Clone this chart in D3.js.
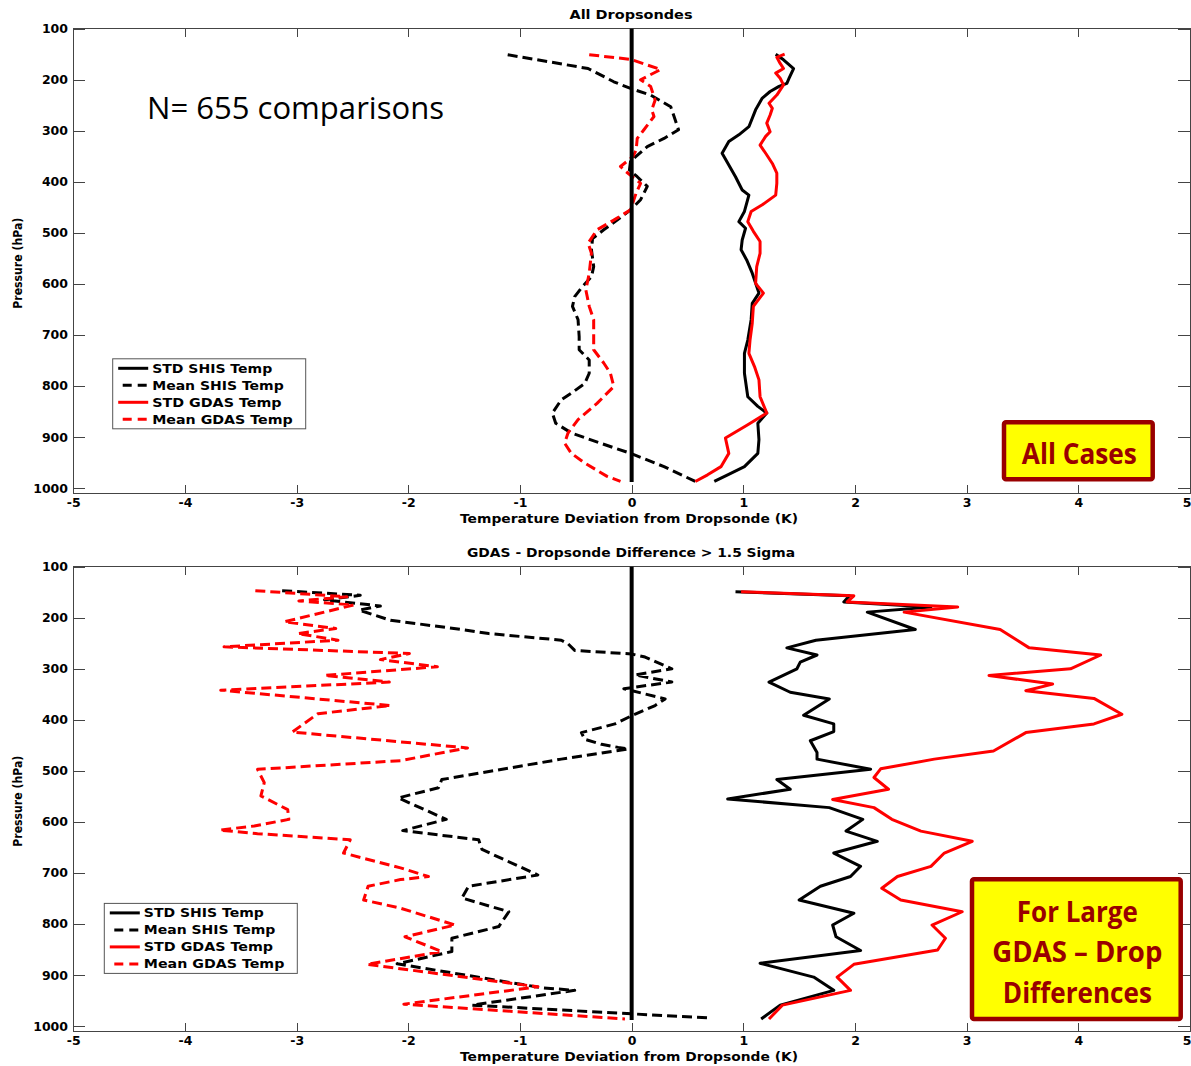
<!DOCTYPE html>
<html lang="en">
<head>
<meta charset="UTF-8">
<title>Dropsonde temperature deviation</title>
<script src="https://cdn.jsdelivr.net/npm/d3@7"></script>
<style>
    body { margin: 0; background: #fff; }
    text { font-family: "DejaVu Sans", sans-serif; font-weight: bold; fill: #000; }
    .axis text { font-size: 12.5px; }
    .axis line { stroke: #444; shape-rendering: crispEdges; }
    .frame { fill: none; stroke: #444; stroke-width: 1; shape-rendering: crispEdges; }
    .lbl { font-size: 12px; }
    .note { font-family: "Open Sans", sans-serif; }
</style>
</head>
<body>
<script>
// ---- data: [pressure hPa, deviation K] ----
// top panel: all dropsondes
const topStdShis = [[150,1.29],[161,1.36],[178,1.45],[197,1.41],[207,1.39],[213,1.32],[223,1.24],[236,1.17],[259,1.11],[292,1.05],[308,0.96],[321,0.87],[344,0.81],[367,0.87],[390,0.93],[416,0.99],[426,1.05],[458,1.01],[478,0.96],[491,1.02],[514,0.99],[533,0.98],[553,1.03],[579,1.08],[618,1.14],[638,1.08],[670,1.07],[710,1.04],[736,1.01],[775,1.01],[821,1.04],[840,1.13],[853,1.21],[873,1.13],[905,1.14],[932,1.13],[958,1.01],[974,0.86],[987,0.74]];
const topMeanShis = [[151,-1.11],[178,-0.39],[197,-0.22],[204,-0.16],[217,-0.01],[230,0.17],[253,0.35],[272,0.38],[298,0.42],[315,0.29],[331,0.14],[354,0.02],[360,-0.01],[377,-0.02],[390,0.05],[409,0.14],[435,0.08],[455,-0.01],[475,-0.13],[494,-0.25],[511,-0.35],[533,-0.36],[566,-0.34],[586,-0.36],[605,-0.44],[625,-0.51],[644,-0.53],[670,-0.48],[703,-0.47],[729,-0.47],[749,-0.38],[775,-0.38],[795,-0.42],[814,-0.54],[827,-0.63],[853,-0.71],[873,-0.68],[892,-0.54],[912,-0.28],[932,-0.01],[958,0.29],[987,0.57]];
const topStdGdas = [[150,1.37],[156,1.30],[168,1.33],[178,1.36],[187,1.29],[197,1.33],[210,1.36],[230,1.30],[246,1.23],[256,1.26],[269,1.24],[285,1.21],[302,1.24],[311,1.20],[328,1.15],[344,1.20],[364,1.26],[383,1.30],[403,1.30],[426,1.29],[445,1.17],[458,1.07],[478,1.04],[497,1.09],[517,1.15],[540,1.15],[566,1.12],[599,1.11],[618,1.18],[644,1.09],[677,1.08],[710,1.06],[736,1.05],[762,1.10],[788,1.14],[821,1.15],[853,1.21],[876,1.04],[902,0.84],[932,0.87],[958,0.80],[974,0.68],[987,0.57]];
const topMeanGdas = [[151,-0.38],[160,-0.01],[180,0.26],[200,0.08],[213,0.17],[240,0.21],[259,0.18],[272,0.20],[298,0.11],[315,0.05],[338,0.04],[351,0.01],[370,-0.10],[380,-0.05],[403,0.08],[422,0.04],[455,-0.01],[475,-0.16],[494,-0.31],[520,-0.39],[540,-0.36],[579,-0.38],[612,-0.41],[644,-0.38],[670,-0.34],[729,-0.34],[755,-0.25],[775,-0.19],[801,-0.16],[834,-0.31],[866,-0.48],[892,-0.57],[912,-0.60],[932,-0.54],[951,-0.42],[977,-0.22],[987,-0.10]];

// bottom panel: GDAS - dropsonde difference > 1.5 sigma
const botStdShis = [[149,0.93],[157,1.95],[169,1.90],[179,2.68],[189,2.11],[223,2.54],[244,1.65],[259,1.39],[273,1.66],[287,1.51],[300,1.48],[326,1.23],[346,1.42],[359,1.77],[391,1.54],[408,1.81],[423,1.81],[441,1.60],[464,1.66],[477,1.66],[497,2.14],[517,1.30],[536,1.42],[555,0.86],[572,1.77],[595,2.07],[618,1.92],[638,2.20],[661,1.81],[687,2.05],[707,1.96],[726,1.69],[753,1.50],[779,1.99],[802,1.80],[825,1.83],[852,2.05],[877,1.15],[904,1.63],[930,1.81],[959,1.33],[986,1.16]];
const botMeanShis = [[147,-3.13],[156,-2.43],[165,-2.75],[177,-2.25],[185,-2.44],[205,-2.16],[223,-1.52],[231,-1.28],[244,-0.63],[251,-0.57],[264,-0.51],[271,0.0],[277,0.12],[300,0.36],[312,0.03],[326,0.36],[339,-0.07],[359,0.30],[372,0.21],[392,0.0],[408,-0.15],[425,-0.45],[438,-0.42],[448,-0.27],[454,-0.12],[457,-0.03],[477,-0.63],[517,-1.70],[533,-1.73],[553,-2.09],[595,-1.66],[617,-2.05],[635,-1.37],[654,-1.34],[704,-0.84],[726,-1.46],[749,-1.52],[776,-1.10],[805,-1.19],[828,-1.61],[854,-1.61],[878,-2.10],[925,-0.80],[930,-0.51],[959,-1.43],[976,0.0],[984,0.69]];
const botStdGdas = [[149,0.98],[157,1.99],[169,1.93],[179,2.92],[189,2.44],[223,3.30],[259,3.56],[273,4.20],[300,3.93],[313,3.20],[330,3.77],[343,3.53],[358,4.14],[389,4.39],[408,4.14],[425,3.53],[461,3.24],[477,2.71],[496,2.23],[513,2.17],[536,2.30],[556,1.80],[572,2.17],[595,2.33],[618,2.59],[638,3.05],[661,2.80],[687,2.68],[707,2.38],[730,2.24],[753,2.41],[776,2.96],[802,2.69],[828,2.81],[851,2.74],[879,1.99],[904,1.84],[930,1.96],[959,1.35],[986,1.23]];
const botMeanGdas = [[147,-3.37],[159,-2.55],[167,-2.98],[175,-2.49],[208,-3.11],[221,-2.65],[231,-2.99],[244,-2.63],[257,-3.65],[270,-1.99],[282,-2.25],[296,-1.74],[313,-2.75],[326,-2.17],[342,-3.68],[372,-2.16],[388,-2.81],[424,-3.04],[455,-1.47],[480,-2.07],[497,-3.35],[523,-3.29],[549,-3.32],[576,-3.08],[595,-3.07],[608,-3.38],[616,-3.69],[623,-3.35],[635,-2.52],[661,-2.58],[690,-2.07],[707,-1.82],[713,-2.07],[726,-2.36],[753,-2.40],[769,-2.07],[802,-1.58],[825,-2.03],[854,-1.70],[879,-2.37],[923,-0.84],[957,-2.04],[986,-0.06]];

const pressureTicks = [100, 200, 300, 400, 500, 600, 700, 800, 900, 1000];
const tempTicks = [-5, -4, -3, -2, -1, 0, 1, 2, 3, 4, 5];
const legendLabels = ['STD SHIS Temp', 'Mean SHIS Temp', 'STD GDAS Temp', 'Mean GDAS Temp'];

// canvas
const width = 1191, height = 1066;
const svg = d3.select('body').append('svg')
    .attr('width', width)
    .attr('height', height);

const left = 73.3, right = 1190;
const x = d3.scaleLinear().domain([-5, 5]).range([left, right]);

// series styling (same order as legend)
const styles = [
    {color: '#000', dash: null},
    {color: '#000', dash: '10,5'},
    {color: '#ff0000', dash: null},
    {color: '#ff0000', dash: '10,5'}
];
const legendWidths = [120, 131.5, 129.3, 140.5];

function drawPanel(top, series, title, legendAt) {
    const bottom = top + 465;
    const y = d3.scaleLinear().domain([100, 1011]).range([top, bottom]);

    // y axis left (labels), right (ticks only)
    const yl = svg.append('g').attr('class', 'axis')
        .attr('transform', 'translate(' + left + ',0)')
        .call(d3.axisLeft(y).tickValues(pressureTicks).tickSizeInner(-11.7).tickSizeOuter(0)
            .tickPadding(5.3).tickFormat(d3.format('d')));
    yl.select('.domain').remove();
    const yr = svg.append('g').attr('class', 'axis')
        .attr('transform', 'translate(' + right + ',0)')
        .call(d3.axisRight(y).tickValues(pressureTicks).tickSizeInner(-11.7).tickSizeOuter(0).tickFormat(''));
    yr.select('.domain').remove();

    // x axis bottom (labels), top (ticks only)
    const xb = svg.append('g').attr('class', 'axis')
        .attr('transform', 'translate(0,' + bottom + ')')
        .call(d3.axisBottom(x).tickValues(tempTicks).tickSizeInner(-8.7).tickSizeOuter(0)
            .tickPadding(4).tickFormat(function (d) { return String(d); }));
    xb.select('.domain').remove();
    // the last label sits on the page edge: keep it inside
    xb.selectAll('.tick text').filter(function (d) { return d === 5; })
        .attr('text-anchor', 'end').attr('x', 1);
    const xt = svg.append('g').attr('class', 'axis')
        .attr('transform', 'translate(0,' + top + ')')
        .call(d3.axisTop(x).tickValues(tempTicks).tickSizeInner(-8.7).tickSizeOuter(0).tickFormat(''));
    xt.select('.domain').remove();

    svg.append('rect').attr('class', 'frame')
        .attr('x', left).attr('y', top)
        .attr('width', right - left).attr('height', bottom - top);

    // profiles
    const line = d3.line()
        .x(function (d) { return x(d[1]); })
        .y(function (d) { return y(d[0]); });
    series.forEach(function (s, i) {
        svg.append('path')
            .datum(s)
            .attr('d', line)
            .attr('fill', 'none')
            .attr('stroke', styles[i].color)
            .attr('stroke-width', 3)
            .attr('stroke-linejoin', 'round')
            .attr('stroke-dasharray', styles[i].dash);
    });

    // zero line
    svg.append('line')
        .attr('x1', x(0)).attr('x2', x(0))
        .attr('y1', y(100)).attr('y2', y(988))
        .attr('stroke', '#000').attr('stroke-width', 4);

    // titles
    svg.append('text').attr('class', 'lbl')
        .attr('x', 631).attr('y', top - 9.8)
        .attr('text-anchor', 'middle')
        .attr('textLength', title.width).attr('lengthAdjust', 'spacingAndGlyphs')
        .text(title.text);
    svg.append('text').attr('class', 'lbl')
        .attr('x', 629).attr('y', bottom + 29)
        .attr('text-anchor', 'middle')
        .attr('textLength', 338).attr('lengthAdjust', 'spacingAndGlyphs')
        .text('Temperature Deviation from Dropsonde (K)');
    svg.append('text').attr('class', 'lbl')
        .attr('transform', 'translate(22,' + (top + 234.5) + ') rotate(-90)')
        .attr('text-anchor', 'middle')
        .attr('textLength', 91).attr('lengthAdjust', 'spacingAndGlyphs')
        .text('Pressure (hPa)');

    // legend
    const lg = svg.append('g').attr('transform', 'translate(' + legendAt[0] + ',' + legendAt[1] + ')');
    lg.append('rect').attr('width', 193).attr('height', 70)
        .attr('fill', '#fff').attr('stroke', '#555').attr('stroke-width', 1);
    legendLabels.forEach(function (name, i) {
        const ly = 9.5 + i * 17;
        const dashed = styles[i].dash !== null;
        lg.append('line')
            .attr('x1', dashed ? 10 : 5.5).attr('x2', dashed ? 34.5 : 35.5)
            .attr('y1', ly).attr('y2', ly)
            .attr('stroke', styles[i].color).attr('stroke-width', 3)
            .attr('stroke-dasharray', dashed ? '9,6' : null);
        lg.append('text').attr('class', 'lbl')
            .attr('x', 39.5).attr('y', ly + 4.6)
            .attr('textLength', legendWidths[i]).attr('lengthAdjust', 'spacingAndGlyphs')
            .text(name);
    });
}

function noteBox(x0, y0, w, h, lines) {
    svg.append('rect')
        .attr('x', x0).attr('y', y0).attr('width', w).attr('height', h)
        .attr('rx', 2)
        .attr('fill', '#ffff00').attr('stroke', '#990000').attr('stroke-width', 4.5);
    lines.forEach(function (l) {
        svg.append('text').attr('class', 'note')
            .attr('x', x0 + w / 2 + 1).attr('y', l.y)
            .attr('text-anchor', 'middle')
            .style('font-size', '29px').style('fill', '#990000')
            .attr('textLength', l.w).attr('lengthAdjust', 'spacingAndGlyphs')
            .text(l.t);
    });
}

drawPanel(28.7, [topStdShis, topMeanShis, topStdGdas, topMeanGdas],
    {text: 'All Dropsondes', width: 123}, [112.7, 358.8]);
drawPanel(566.7, [botStdShis, botMeanShis, botStdGdas, botMeanGdas],
    {text: 'GDAS - Dropsonde Difference > 1.5 Sigma', width: 328}, [104.3, 903.4]);

// annotations
svg.append('text').attr('class', 'note')
    .attr('x', 147).attr('y', 118.6)
    .style('font-weight', 'normal').style('font-size', '31px')
    .attr('textLength', 297).attr('lengthAdjust', 'spacingAndGlyphs')
    .text('N= 655 comparisons');

noteBox(1004, 422.3, 148.7, 57, [{t: 'All Cases', y: 464, w: 115}]);
noteBox(972, 879.3, 208.7, 139.7, [
    {t: 'For Large', y: 921.5, w: 121},
    {t: 'GDAS \u2013 Drop', y: 961.8, w: 170},
    {t: 'Differences', y: 1003, w: 149}
]);
</script>
</body>
</html>
